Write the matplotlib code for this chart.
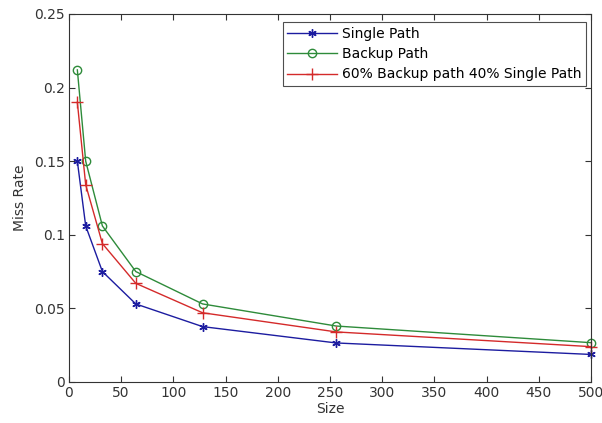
import matplotlib
matplotlib.use("Agg")
import matplotlib.pyplot as plt

# Cache size vs miss rate
sizes = [8, 16, 32, 64, 128, 256, 500]
single_path = [0.150, 0.106, 0.075, 0.053, 0.0376, 0.0265, 0.0187]
backup_path = [0.212, 0.150, 0.106, 0.075, 0.053, 0.0380, 0.0267]
mixed_path = [0.190, 0.134, 0.094, 0.067, 0.047, 0.0340, 0.0240]

labels = ["Single Path", "Backup Path", "60% Backup path 40% Single Path"]
x_ticks = [0, 50, 100, 150, 200, 250, 300, 350, 400, 450, 500]
y_ticks = [0, 0.05, 0.1, 0.15, 0.2, 0.25]
y_ticklabels = ["0", "0.05", "0.1", "0.15", "0.2", "0.25"]

plt.rcParams["font.family"] = ["DejaVu Sans"]

fig = plt.figure(figsize=(6.02, 4.23), dpi=100)
ax = fig.add_axes([0.1146, 0.097, 0.867, 0.870])

asterisk = (6, 2, 0)
ax.plot(sizes, single_path, color="#1c1ca0", marker=asterisk, markersize=6,
        markeredgewidth=1.0, linewidth=1.0, label=labels[0], clip_on=False)
ax.plot(sizes, backup_path, color="#2e8b3a", marker="o", markersize=6,
        markerfacecolor="none", linewidth=1.0, label=labels[1], clip_on=False)
ax.plot(sizes, mixed_path, color="#d42a2a", marker="+", markersize=8,
        linewidth=1.0, label=labels[2], clip_on=False)

ax.set_xlim(0, 500)
ax.set_ylim(0, 0.25)
ax.set_xticks(x_ticks)
ax.set_yticks(y_ticks)
ax.set_yticklabels(y_ticklabels)
ax.tick_params(direction="in", top=True, right=True, length=4,
               labelsize=10, colors="#333333", pad=3)
for s in ax.spines.values():
    s.set_linewidth(0.8)
    s.set_color("#333333")

ax.set_xlabel("Size", fontsize=10, labelpad=1, color="#333333")
ax.set_ylabel("Miss Rate", fontsize=10, labelpad=5, color="#333333")

leg = ax.legend(loc="upper right", bbox_to_anchor=(0.9904, 0.978),
                fontsize=10, frameon=True, fancybox=False,
                handlelength=3.6, handletextpad=0.3, borderpad=0.35,
                labelspacing=0.45, borderaxespad=0)
leg.get_frame().set_edgecolor("#222222")
leg.get_frame().set_linewidth(0.8)

fig.savefig("out.png", dpi=100)
